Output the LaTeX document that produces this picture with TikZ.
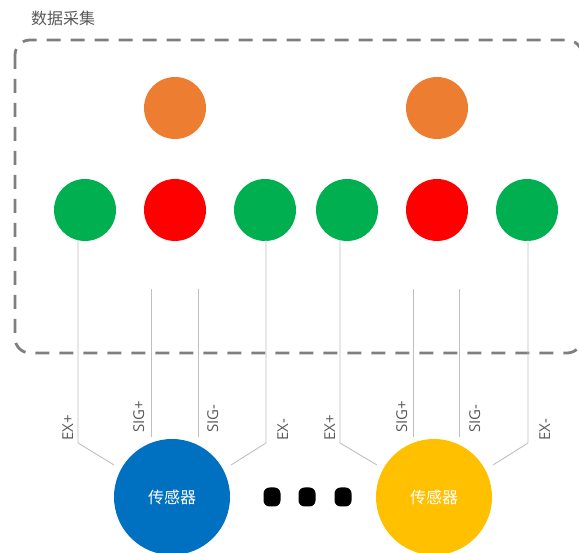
\documentclass[tikz,border=0pt]{standalone}
\usepackage{fontspec}
\setmainfont{Open Sans}
\newfontfamily\cjk{Noto Sans CJK SC}
\usetikzlibrary{calc}
\definecolor{cOrange}{HTML}{ED7D31}
\definecolor{cGreen}{HTML}{00B050}
\definecolor{cRed}{HTML}{FF0000}
\definecolor{cBlue}{HTML}{0070C0}
\definecolor{cYellow}{HTML}{FFC000}
\definecolor{cBox}{HTML}{7F7F7F}
\definecolor{cWire}{HTML}{BFBFBF}
\definecolor{cText}{HTML}{595959}
\tikzset{
  led/.style={circle,minimum size=62pt,inner sep=0pt,fill=#1,draw=none},
  sensor/.style={circle,minimum size=116pt,inner sep=0pt,fill=#1,draw=none,text=white,font=\cjk\fontsize{16}{18}\selectfont},
  wire/.style={draw=cWire,line width=0.9pt},
  lbl/.style={rotate=90,anchor=base west,text=cText,font=\fontsize{15}{17}\selectfont,inner sep=0pt},
  dot/.style={rounded corners=6pt,fill=black,minimum width=17pt,minimum height=19pt,inner sep=0pt},
  groupbox/.style={draw=cBox,line width=2.8pt,dash pattern=on 14pt off 10pt,rounded corners=15pt}
}
\begin{document}
\begin{tikzpicture}[x=1pt,y=-1pt]
\useasboundingbox (0,0) rectangle (579,553);
\begin{scope}
\clip (0,0) rectangle (579,553);
\draw[groupbox] (15,40) rectangle (582,353);
\end{scope}
\node[anchor=west,text=cText,font=\cjk\fontsize{16}{18}\selectfont,inner sep=0pt] (title) at (31,18) {数据采集};
% LEDs
\node[led=cOrange] (o1) at (175,108) {};
\node[led=cOrange] (o2) at (437,108) {};
\node[led=cGreen] (g1) at (85,210) {};
\node[led=cRed]   (r1) at (175,210) {};
\node[led=cGreen] (g2) at (265,210) {};
\node[led=cGreen] (g3) at (347,210) {};
\node[led=cRed]   (r2) at (437,210) {};
\node[led=cGreen] (g4) at (527,210) {};
% sensors
\node[sensor=cBlue] (s1) at (172,497) {传感器};
\node[sensor=cYellow] (s2) at (434,497) {传感器};
% dots
\node[dot] (d1) at (272,497) {};
\node[dot] (d2) at (307,497) {};
\node[dot] (d3) at (343,497) {};
% wire coordinates, sensor 1
\coordinate (a1t) at (78,240);  \coordinate (a1b) at (78,443);  \coordinate (a1e) at (114,465);
\coordinate (b1t) at (151,289); \coordinate (b1b) at (151,437);
\coordinate (c1t) at (198,289); \coordinate (c1b) at (198,437);
\coordinate (e1t) at (266,240); \coordinate (e1b) at (266,443); \coordinate (e1e) at (231,465);
% sensor 2
\coordinate (a2t) at (340,240); \coordinate (a2b) at (340,443); \coordinate (a2e) at (377,465);
\coordinate (b2t) at (413,289); \coordinate (b2b) at (413,437);
\coordinate (c2t) at (459,289); \coordinate (c2b) at (459,437);
\coordinate (e2t) at (528,240); \coordinate (e2b) at (528,443); \coordinate (e2e) at (493,465);
\draw[wire] (a1t) -- (a1b) -- (a1e);
\draw[wire] (b1t) -- (b1b);
\draw[wire] (c1t) -- (c1b);
\draw[wire] (e1t) -- (e1b) -- (e1e);
\draw[wire] (a2t) -- (a2b) -- (a2e);
\draw[wire] (b2t) -- (b2b);
\draw[wire] (c2t) -- (c2b);
\draw[wire] (e2t) -- (e2b) -- (e2e);
% labels (anchor = start of text, baseline side)
\node[lbl] (la1) at (73,441) {EX+};
\node[lbl] (lb1) at (144,433) {SIG+};
\node[lbl] (lc1) at (218,433) {SIG-};
\node[lbl] (le1) at (288,441) {EX-};
\node[lbl] (la2) at (335,441) {EX+};
\node[lbl] (lb2) at (407,433) {SIG+};
\node[lbl] (lc2) at (480,433) {SIG-};
\node[lbl] (le2) at (550,441) {EX-};
\end{tikzpicture}
\end{document}
